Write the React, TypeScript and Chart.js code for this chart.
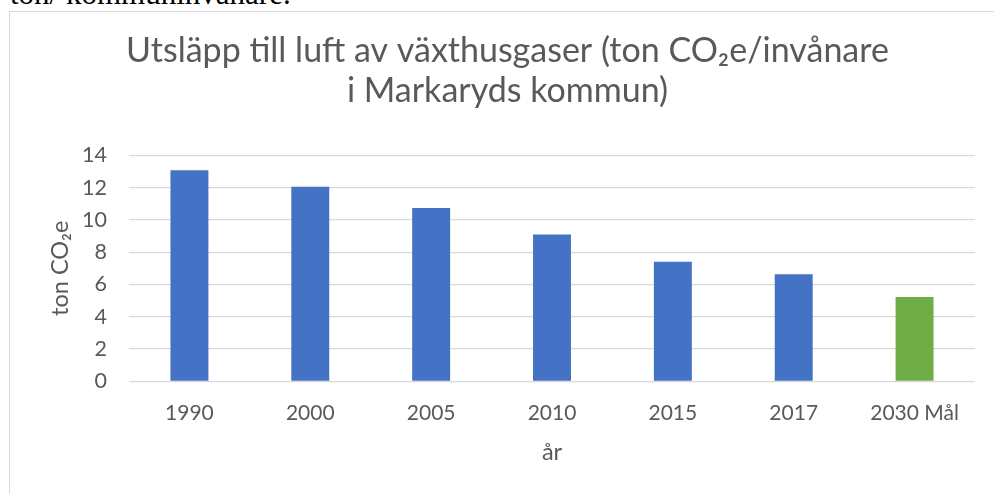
import React, { useEffect, useRef } from "react";
import { Chart, registerables } from "chart.js";
Chart.register(...registerables);

const categories = ["1990", "2000", "2005", "2010", "2015", "2017", "2030 Mål"];
const emissions = [13.07, 12.05, 10.74, 9.1, 7.41, 6.63, 5.22];
const barColors = ["#4472C4", "#4472C4", "#4472C4", "#4472C4", "#4472C4", "#4472C4", "#70AD47"];
const yMin = 0;
const yMax = 14;
const yStep = 2;
const titleLines = ["Utsläpp till luft av växthusgaser (ton CO₂e/invånare", "i Markaryds kommun)"];
const yTitle = "ton CO₂e";
const xTitle = "år";
const docText = "ton/ kommuninvånare.";

const FONT = "Lato";
const TEXT = "#595959";

export default function App() {
  const ref = useRef<HTMLCanvasElement | null>(null);

  useEffect(() => {
    if (!ref.current) return;
    const chart = new Chart(ref.current, {
      type: "bar",
      data: {
        labels: categories,
        datasets: [
          {
            data: emissions,
            backgroundColor: barColors,
            barPercentage: 0.314,
            categoryPercentage: 1,
          },
        ],
      },
      options: {
        animation: false,
        responsive: false,
        devicePixelRatio: 1,
        layout: { padding: { left: 0, right: 0, top: 0, bottom: 0 } },
        plugins: {
          legend: { display: false },
          tooltip: { enabled: false },
          title: {
            display: true,
            text: titleLines,
            color: TEXT,
            font: { family: FONT, size: 34, weight: "normal", lineHeight: 40.3 / 34 },
            padding: { top: 18.5, bottom: 44.2 },
          },
        },
        scales: {
          x: {
            grid: { display: false, drawTicks: false },
            border: { display: false },
            ticks: { color: TEXT, font: { family: FONT, size: 21 }, padding: 19 },
            title: {
              display: true,
              text: xTitle,
              color: TEXT,
              font: { family: FONT, size: 23.5 },
              padding: { top: 0, bottom: 27.7 },
            },
            afterFit: (s: any) => {
              s.height = 112.7;
            },
          },
          y: {
            min: yMin,
            max: yMax,
            ticks: { stepSize: yStep, color: TEXT, font: { family: FONT, size: 21.5 }, padding: 22 },
            grid: { color: "#d9d9d9", lineWidth: 1.2, drawTicks: false },
            border: { display: false },
            title: {
              display: true,
              text: yTitle,
              color: TEXT,
              font: { family: FONT, size: 23.5 },
              padding: { top: 35.9, bottom: 0 },
            },
            afterFit: (s: any) => {
              s.width = 119;
            },
          },
          yRight: {
            position: "right",
            display: true,
            min: yMin,
            max: yMax,
            grid: { display: false, drawTicks: false },
            border: { display: false },
            ticks: { display: false },
            afterFit: (s: any) => {
              s.width = 30;
            },
          },
        },
      },
    });
    return () => chart.destroy();
  }, []);

  return (
    <div style={{ position: "fixed", left: 0, top: 0, width: 994, height: 494, overflow: "hidden", background: "#fff" }}>
      <div
        style={{
          position: "absolute",
          left: 10,
          top: -22,
          fontFamily: '"Liberation Serif", serif',
          fontSize: 31,
          lineHeight: 1,
          whiteSpace: "nowrap",
          color: "#000",
        }}
      >
        {docText}
      </div>
      <div
        style={{
          position: "absolute",
          left: 9,
          top: 11,
          width: 995,
          height: 500,
          border: "1px solid #d9d9d9",
          background: "#fff",
        }}
      >
        <canvas ref={ref} width={995} height={482} style={{ display: "block" }} />
      </div>
    </div>
  );
}
